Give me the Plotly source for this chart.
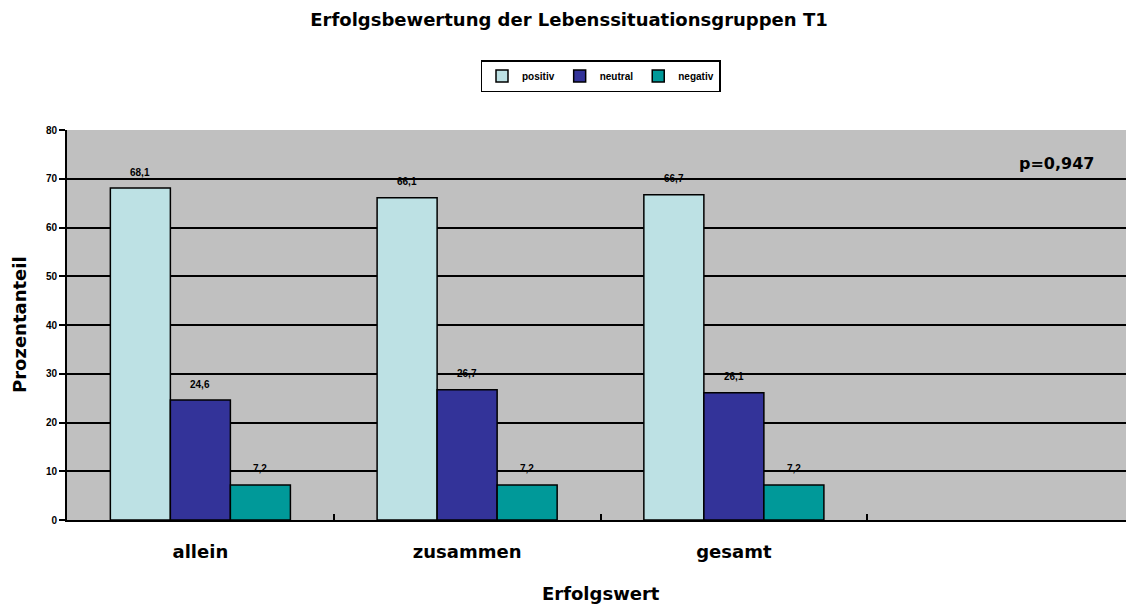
import plotly.graph_objects as go

categories = ["allein", "zusammen", "gesamt"]
axis_slots = ["allein", "zusammen", "gesamt", " "]
positiv = [68.1, 66.1, 66.7]
neutral = [24.6, 26.7, 26.1]
negativ = [7.2, 7.2, 7.2]
series = [("positiv", positiv, "#BDE1E4"), ("neutral", neutral, "#333399"), ("negativ", negativ, "#009999")]

FONT = "Liberation Sans, Arial, sans-serif"
WIDE = "DejaVu Sans, Verdana, sans-serif"

# page body has an 8px margin, so the figure is sized to fill the rest of the window
W, H = 1126, 597
ML, MR, MT, MB = 59, 0, 122, 85
BARGAP = 0.325
plot_w = W - ML - MR
plot_h = H - MT - MB
cat_px = plot_w / len(axis_slots)
bar_px = cat_px * (1 - BARGAP) / len(series)

fig = go.Figure()
for i, (name, vals, col) in enumerate(series):
    fig.add_trace(go.Bar(
        name=f"<b>{name}</b>", x=categories, y=vals,
        marker=dict(color=col, line=dict(color="black", width=1.5)),
    ))
    for c, v in zip(categories, vals):
        fig.add_annotation(x=c, y=v, xref="x", yref="y",
                           text="<b>" + f"{v:.1f}".replace(".", ",") + "</b>",
                           xshift=(i - 1) * bar_px, yshift=16, showarrow=False,
                           font=dict(family=FONT, size=10, color="black"),
                           xanchor="center", yanchor="middle")

fig.update_layout(
    width=W, height=H,
    paper_bgcolor="white", plot_bgcolor="#C0C0C0",
    barmode="group", bargap=BARGAP, bargroupgap=0,
    margin=dict(l=ML, r=MR, t=MT, b=MB, autoexpand=False),
    font=dict(family=FONT, color="black"),
    title=dict(text="<b>Erfolgsbewertung der Lebenssituationsgruppen T1</b>",
               x=561 / W, xanchor="center", xref="container", y=1 - 12 / H, yref="container", yanchor="middle",
               font=dict(size=18, family=WIDE)),
    legend=dict(orientation="h", x=0.5, xanchor="center", y=1 + 54 / plot_h, yanchor="middle",
                bordercolor="black", borderwidth=1.5, bgcolor="white",
                font=dict(size=10, family=FONT), traceorder="normal"),
    showlegend=True,
)
fig.update_xaxes(
    categoryorder="array", categoryarray=axis_slots, range=[-0.5, len(axis_slots) - 0.5],
    showline=True, linecolor="black", linewidth=2,
    tickson="boundaries", ticks="inside", ticklen=6, tickcolor="black", tickwidth=1.5,
    tickfont=dict(size=18, family=WIDE), ticklabelstandoff=14,
    tickprefix="<b>", ticksuffix="</b>",
    automargin=False, showgrid=False,
)
fig.update_yaxes(
    range=[0, 80], dtick=10, tick0=0,
    showline=True, linecolor="black", linewidth=2,
    ticks="outside", ticklen=6, tickcolor="black", tickwidth=1.5,
    tickfont=dict(size=10, family=FONT), tickprefix="<b>", ticksuffix="</b>",
    showgrid=True, gridcolor="black", gridwidth=2,
    automargin=False, zeroline=False,
)

fig.add_annotation(text="<b>Erfolgswert</b>", xref="paper", yref="paper", x=0.5, y=-73 / plot_h,
                   showarrow=False, font=dict(size=18, family=WIDE), xanchor="center", yanchor="middle")
fig.add_annotation(text="<b>Prozentanteil</b>", xref="paper", yref="paper", x=-48 / plot_w, y=0.5,
                   textangle=-90, showarrow=False, font=dict(size=18, family=WIDE),
                   xanchor="center", yanchor="middle")
fig.add_annotation(text="<b>p=0,947</b>", xref="paper", yref="y", x=(1056 - 67) / plot_w, y=73.2,
                   showarrow=False, font=dict(size=16, family=WIDE), xanchor="center", yanchor="middle")

fig.write_html("out.html")
